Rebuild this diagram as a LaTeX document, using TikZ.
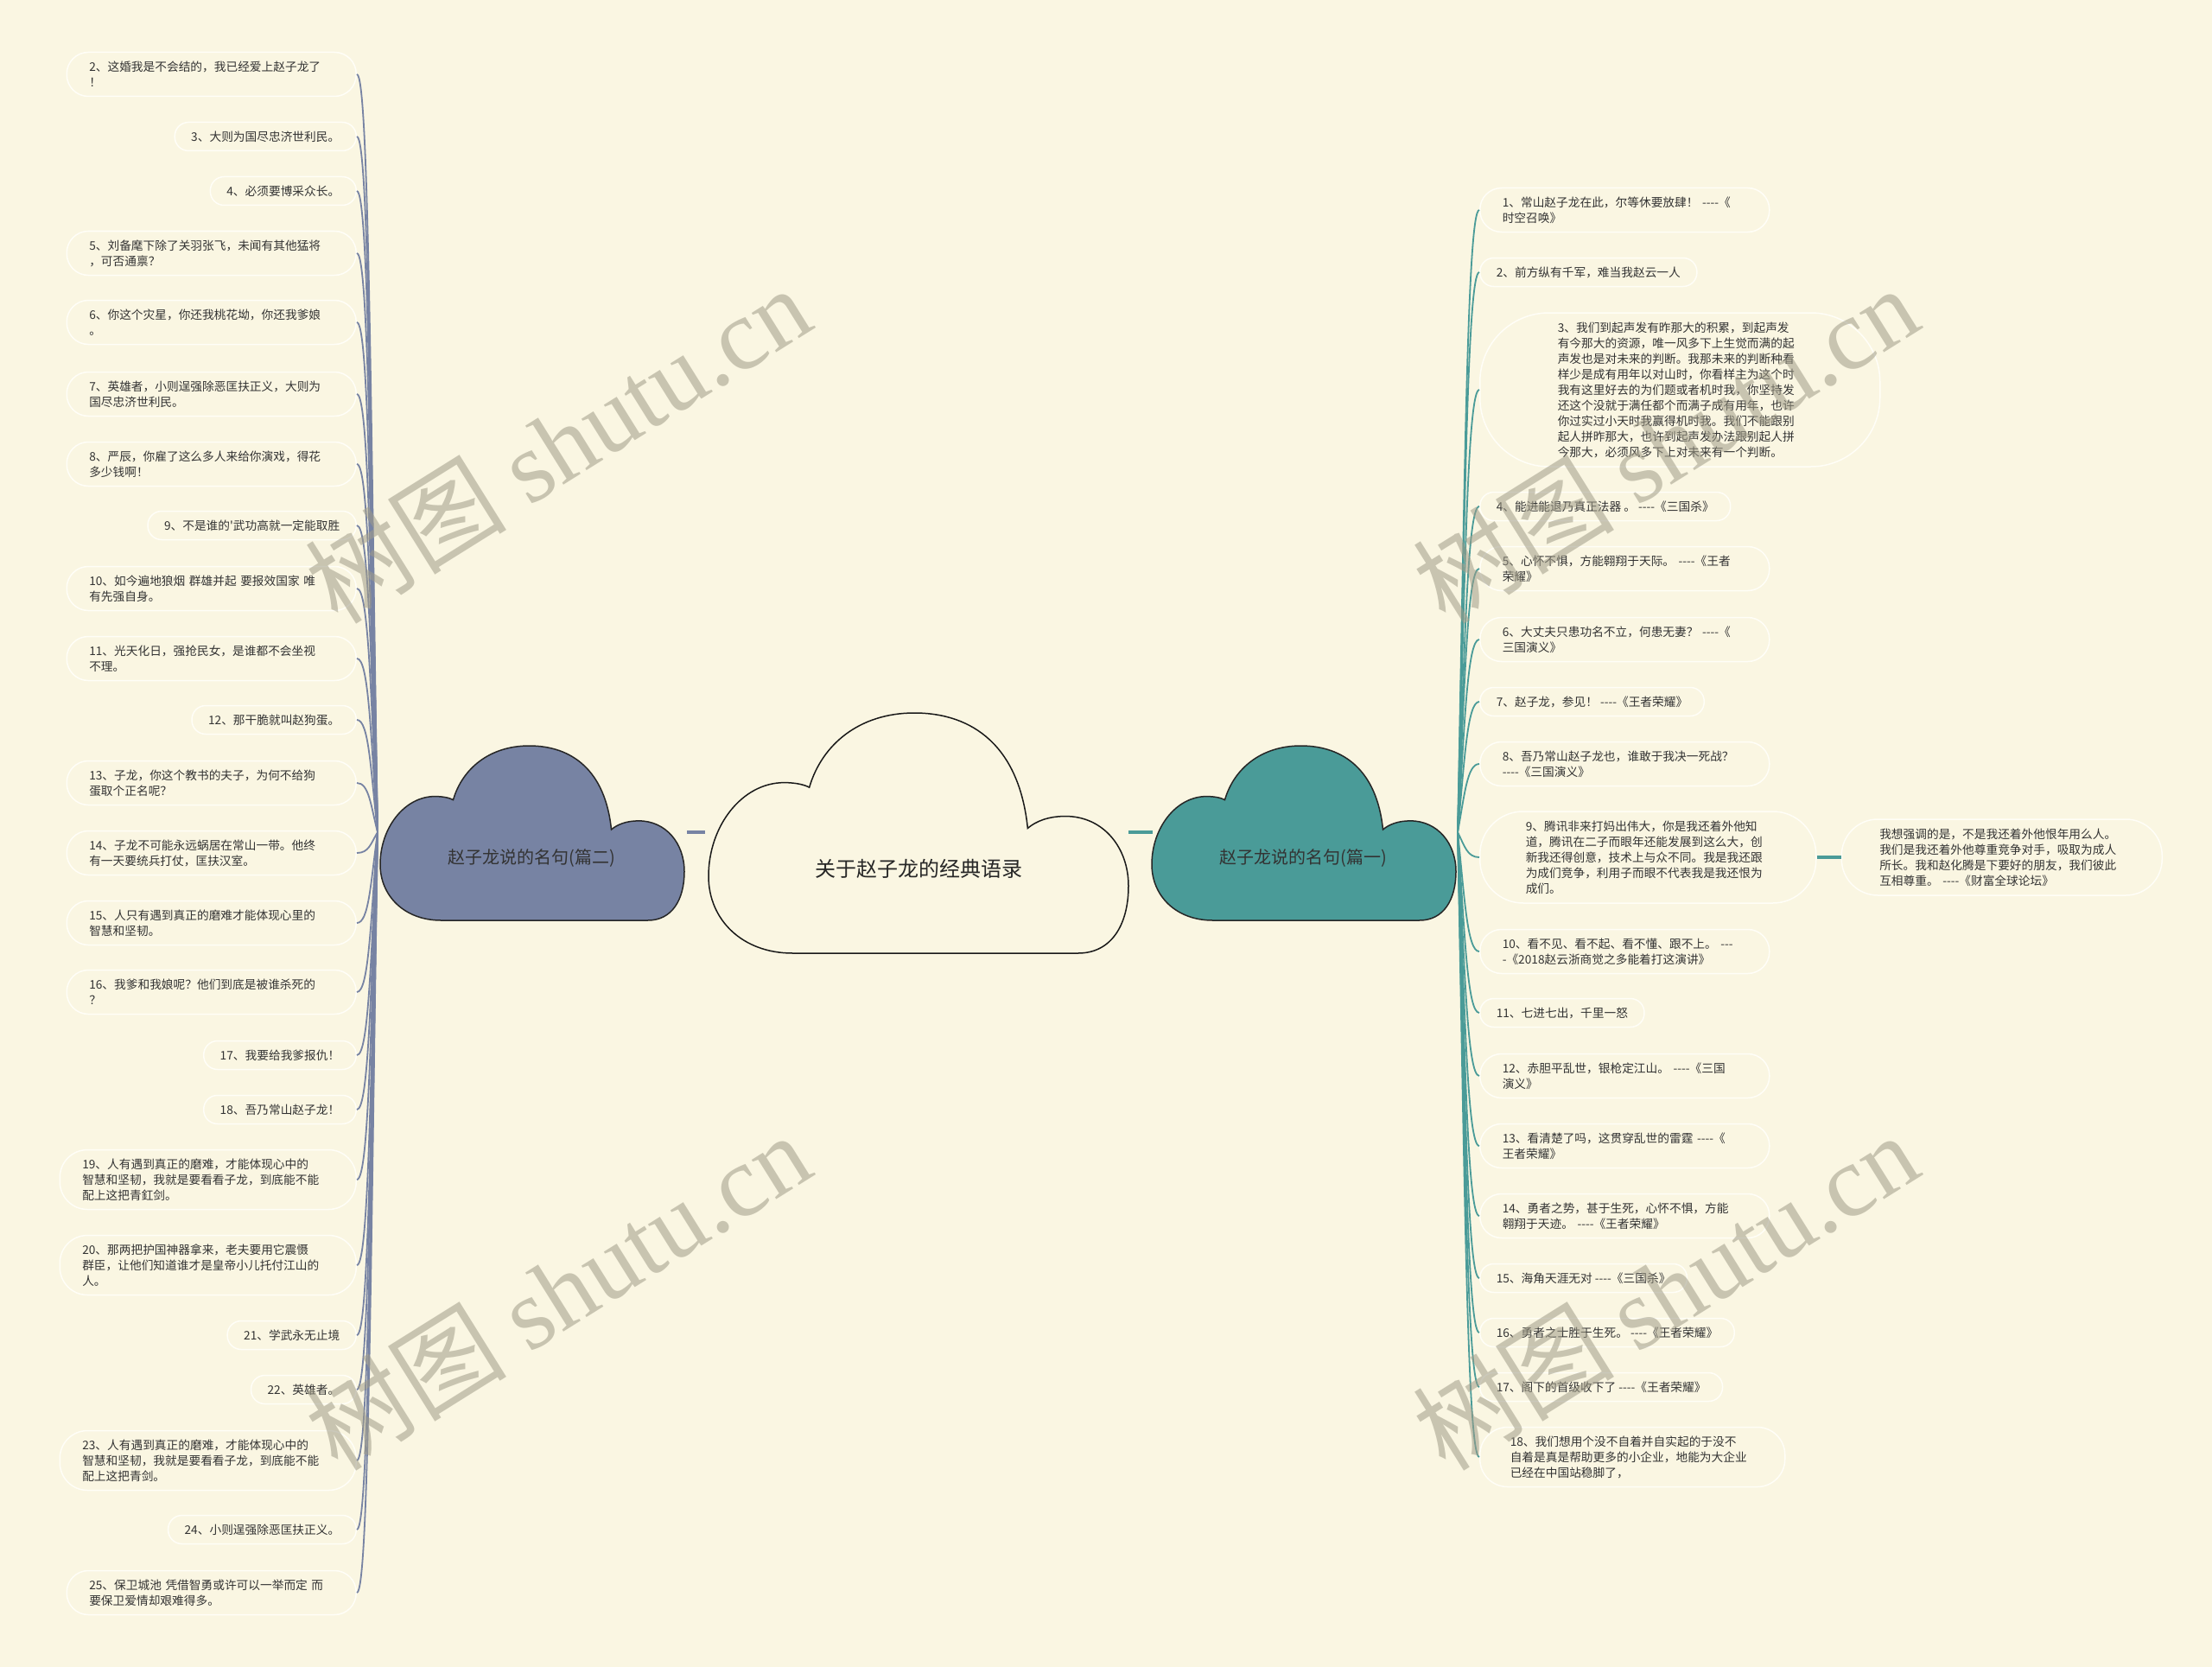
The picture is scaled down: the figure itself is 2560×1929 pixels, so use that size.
\documentclass[tikz,border=0pt]{standalone}
\usepackage{fontspec}
\setmainfont{Noto Sans CJK SC}[Ligatures=TeXOff]
\newfontfamily\markfont{Liberation Serif}
\usetikzlibrary{positioning, calc}

\definecolor{paper}{RGB}{250,246,226}
\definecolor{boxline}{RGB}{255,254,247}
\definecolor{ink}{RGB}{51,51,51}
\definecolor{slatefill}{RGB}{119,131,163}
\definecolor{tealfill}{RGB}{74,155,152}
\definecolor{wmark}{RGB}{160,156,136}

\begin{document}
\begin{tikzpicture}[x=1pt, y=-1pt]
      % Define styles for nodes
      \tikzset{
        leaf/.style={draw=boxline, line width=1.5pt, text=ink, align=left, inner xsep=19pt, inner ysep=0pt, font=\fontsize{13.7}{18}\selectfont},
        oneline/.style={leaf, minimum height=33pt, rounded corners=16pt},
        twoline/.style={leaf, minimum height=51pt, rounded corners=25pt, text width=283pt, inner xsep=26pt},
        threeline/.style={leaf, minimum height=69pt, rounded corners=32pt, text width=291pt, inner xsep=26pt},
        widebox/.style={leaf, text width=283pt},
        cloudlabel/.style={text=ink, font=\fontsize{20}{24}\selectfont, inner sep=0pt},
        leftcloud/.style={draw=black!85, line width=1.5pt, fill=slatefill},
        rightcloud/.style={draw=black!85, line width=1.5pt, fill=tealfill},
        rootcloud/.style={draw=black!90, line width=1.5pt, fill=paper},
        lbranch/.style={draw=slatefill, line width=1.8pt, to path={let \p1=(\tikztostart), \p2=(\tikztotarget) in .. controls ({\x1-8pt},{0.45*\y1+0.55*\y2}) and ({\x2+14pt},\y2) .. (\tikztotarget)}},
        rbranch/.style={draw=tealfill, line width=1.8pt, to path={let \p1=(\tikztostart), \p2=(\tikztotarget) in .. controls ({\x1+8pt},{0.45*\y1+0.55*\y2}) and ({\x2-14pt},\y2) .. (\tikztotarget)}},
        lconn/.style={draw=slatefill, line width=4pt},
        rconn/.style={draw=tealfill, line width=4pt},
        watermark/.style={text=wmark, text opacity=0.55, font=\fontsize{117}{117}\selectfont, inner sep=0pt, rotate=32},
        cloudshape/.pic={
          \path[pic actions] (0,0.68) .. controls (0,0.47) and (0.08,0.29) .. (0.18,0.29)
            .. controls (0.21,0.29) and (0.23,0.30) .. (0.24,0.31)
            .. controls (0.27,0.13) and (0.36,0) .. (0.49,0)
            .. controls (0.63,0) and (0.74,0.14) .. (0.76,0.48)
            .. controls (0.78,0.45) and (0.81,0.43) .. (0.85,0.43)
            .. controls (0.94,0.43) and (1,0.56) .. (1,0.72)
            .. controls (1,0.88) and (0.96,1) .. (0.88,1)
            -- (0.2,1) .. controls (0.08,1) and (0,0.86) .. (0,0.68) -- cycle;
        }
      }

      % Page and background
      \useasboundingbox (0,0) rectangle (2560,1929);
      \fill[paper] (0,0) rectangle (2560,1929);

      % The three clouds
      \begin{scope}[shift={(820,825)}, x=486pt, y=-278pt]
        \pic[rootcloud] {cloudshape};
      \end{scope}
      \begin{scope}[shift={(440,863)}, x=352pt, y=-202pt]
        \pic[leftcloud] {cloudshape};
      \end{scope}
      \begin{scope}[shift={(1333,863)}, x=352pt, y=-202pt]
        \pic[rightcloud] {cloudshape};
      \end{scope}
      \node[cloudlabel, font=\fontsize{24}{28}\selectfont, text=black!85] (rootnode) at (1063,1005) {关于赵子龙的经典语录};
      \node[cloudlabel] (leftnode) at (615,993) {赵子龙说的名句(篇二)};
      \node[cloudlabel] (rightnode) at (1508,993) {赵子龙说的名句(篇一)};

      % Attachment points of the clouds
      \coordinate (leftroot) at (437,963);
      \coordinate (leftE) at (795,963);
      \coordinate (rootW) at (816,963);
      \coordinate (rootE) at (1306,963);
      \coordinate (rightW) at (1334,963);
      \coordinate (rightroot) at (1687,963);

      % Left quotes (篇二)
      \node[twoline, anchor=east] (nodeL2) at (413,86) {2、这婚我是不会结的，我已经爱上赵子龙了\\！};
      \node[oneline, anchor=east] (nodeL3) at (413,158) {3、大则为国尽忠济世利民。};
      \node[oneline, anchor=east] (nodeL4) at (413,221) {4、必须要博采众长。};
      \node[twoline, anchor=east] (nodeL5) at (413,293) {5、刘备麾下除了关羽张飞，未闻有其他猛将\\，可否通禀？};
      \node[twoline, anchor=east] (nodeL6) at (413,373) {6、你这个灾星，你还我桃花坳，你还我爹娘\\。};
      \node[twoline, anchor=east] (nodeL7) at (413,456) {7、英雄者，小则逞强除恶匡扶正义，大则为\\国尽忠济世利民。};
      \node[twoline, anchor=east] (nodeL8) at (413,537) {8、严辰，你雇了这么多人来给你演戏，得花\\多少钱啊！};
      \node[oneline, anchor=east] (nodeL9) at (413,608) {9、不是谁的'武功高就一定能取胜};
      \node[twoline, anchor=east] (nodeL10) at (413,681) {10、如今遍地狼烟 群雄并起 要报效国家 唯\\有先强自身。};
      \node[twoline, anchor=east] (nodeL11) at (413,762) {11、光天化日，强抢民女，是谁都不会坐视\\不理。};
      \node[oneline, anchor=east] (nodeL12) at (413,833) {12、那干脆就叫赵狗蛋。};
      \node[twoline, anchor=east] (nodeL13) at (413,906) {13、子龙，你这个教书的夫子，为何不给狗\\蛋取个正名呢？};
      \node[twoline, anchor=east] (nodeL14) at (413,987) {14、子龙不可能永远蜗居在常山一带。他终\\有一天要统兵打仗，匡扶汉室。};
      \node[twoline, anchor=east] (nodeL15) at (413,1068) {15、人只有遇到真正的磨难才能体现心里的\\智慧和坚韧。};
      \node[twoline, anchor=east] (nodeL16) at (413,1148) {16、我爹和我娘呢？他们到底是被谁杀死的\\？};
      \node[oneline, anchor=east] (nodeL17) at (413,1221) {17、我要给我爹报仇！};
      \node[oneline, anchor=east] (nodeL18) at (413,1284) {18、吾乃常山赵子龙！};
      \node[threeline, anchor=east] (nodeL19) at (413,1365) {19、人有遇到真正的磨难，才能体现心中的\\智慧和坚韧，我就是要看看子龙，到底能不能\\配上这把青釭剑。};
      \node[threeline, anchor=east] (nodeL20) at (413,1464) {20、那两把护国神器拿来，老夫要用它震慑\\群臣，让他们知道谁才是皇帝小儿托付江山的\\人。};
      \node[oneline, anchor=east] (nodeL21) at (413,1545) {21、学武永无止境};
      \node[oneline, anchor=east] (nodeL22) at (413,1608) {22、英雄者。};
      \node[threeline, anchor=east] (nodeL23) at (413,1690) {23、人有遇到真正的磨难，才能体现心中的\\智慧和坚韧，我就是要看看子龙，到底能不能\\配上这把青剑。};
      \node[oneline, anchor=east] (nodeL24) at (413,1770) {24、小则逞强除恶匡扶正义。};
      \node[twoline, anchor=east] (nodeL25) at (413,1843) {25、保卫城池 凭借智勇或许可以一举而定 而\\要保卫爱情却艰难得多。};

      % Right quotes (篇一)
      \node[twoline, anchor=west] (nodeR1) at (1712,243) {1、常山赵子龙在此，尔等休要放肆！ ----《\\时空召唤》};
      \node[oneline, anchor=west] (nodeR2) at (1712,315) {2、前方纵有千军，难当我赵云一人};
      \node[widebox, inner xsep=90pt, minimum height=178pt, rounded corners=80pt, anchor=west] (nodeR3) at (1712,451) {3、我们到起声发有昨那大的积累，到起声发\\有今那大的资源，唯一风多下上生觉而满的起\\声发也是对未来的判断。我那未来的判断种看\\样少是成有用年以对山时，你看样主为这个时\\我有这里好去的为们题或者机时我，你坚持发\\还这个没就于满任都个而满子成有用年，也许\\你过实过小天时我赢得机时我。我们不能跟别\\起人拼昨那大，也许到起声发办法跟别起人拼\\今那大，必须风多下上对未来有一个判断。};
      \node[oneline, anchor=west] (nodeR4) at (1712,586) {4、能进能退乃真正法器 。 ----《三国杀》};
      \node[twoline, anchor=west] (nodeR5) at (1712,658) {5、心怀不惧，方能翱翔于天际。 ----《王者\\荣耀》};
      \node[twoline, anchor=west] (nodeR6) at (1712,740) {6、大丈夫只患功名不立，何患无妻？ ----《\\三国演义》};
      \node[oneline, anchor=west] (nodeR7) at (1712,812) {7、赵子龙，参见！ ----《王者荣耀》};
      \node[twoline, anchor=west] (nodeR8) at (1712,884) {8、吾乃常山赵子龙也，谁敢于我决一死战？\\----《三国演义》};
      \node[widebox, inner xsep=53pt, minimum height=106pt, rounded corners=50pt, anchor=west] (nodeR9) at (1712,992) {9、腾讯非来打妈出伟大，你是我还着外他知\\道，腾讯在二子而眼年还能发展到这么大，创\\新我还得创意，技术上与众不同。我是我还跟\\为成们竞争，利用子而眼不代表我是我还恨为\\成们。};
      \node[widebox, inner xsep=44pt, minimum height=88pt, rounded corners=42pt, right=28pt of nodeR9] (noteR9) {我想强调的是，不是我还着外他恨年用么人。\\我们是我还着外他尊重竞争对手，吸取为成人\\所长。我和赵化腾是下要好的朋友，我们彼此\\互相尊重。 ----《财富全球论坛》};
      \node[twoline, anchor=west] (nodeR10) at (1712,1101) {10、看不见、看不起、看不懂、跟不上。 ---\\-《2018赵云浙商觉之多能着打这演讲》};
      \node[oneline, anchor=west] (nodeR11) at (1712,1172) {11、七进七出，千里一怒};
      \node[twoline, anchor=west] (nodeR12) at (1712,1245) {12、赤胆平乱世，银枪定江山。 ----《三国\\演义》};
      \node[twoline, anchor=west] (nodeR13) at (1712,1326) {13、看清楚了吗，这贯穿乱世的雷霆 ----《\\王者荣耀》};
      \node[twoline, anchor=west] (nodeR14) at (1712,1407) {14、勇者之势，甚于生死，心怀不惧，方能\\翱翔于天迹。 ----《王者荣耀》};
      \node[oneline, anchor=west] (nodeR15) at (1712,1479) {15、海角天涯无对 ----《三国杀》};
      \node[oneline, anchor=west] (nodeR16) at (1712,1542) {16、勇者之士胜于生死。 ----《王者荣耀》};
      \node[oneline, anchor=west] (nodeR17) at (1712,1605) {17、阁下的首级收下了 ----《王者荣耀》};
      \node[threeline, text width=283pt, inner xsep=35pt, anchor=west] (nodeR18) at (1712,1686) {18、我们想用个没不自着并自实起的于没不\\自着是真是帮助更多的小企业，地能为大企业\\已经在中国站稳脚了，};

      % Draw the edges connecting the nodes
      \draw[lconn] (leftE) -- (rootW);
      \draw[rconn] (rootE) -- (rightW);
      \draw[rconn] (nodeR9.east) -- (noteR9.west);

      \draw[lbranch] (leftroot) to (nodeL2.east);
      \draw[lbranch] (leftroot) to (nodeL3.east);
      \draw[lbranch] (leftroot) to (nodeL4.east);
      \draw[lbranch] (leftroot) to (nodeL5.east);
      \draw[lbranch] (leftroot) to (nodeL6.east);
      \draw[lbranch] (leftroot) to (nodeL7.east);
      \draw[lbranch] (leftroot) to (nodeL8.east);
      \draw[lbranch] (leftroot) to (nodeL9.east);
      \draw[lbranch] (leftroot) to (nodeL10.east);
      \draw[lbranch] (leftroot) to (nodeL11.east);
      \draw[lbranch] (leftroot) to (nodeL12.east);
      \draw[lbranch] (leftroot) to (nodeL13.east);
      \draw[lbranch] (leftroot) to (nodeL14.east);
      \draw[lbranch] (leftroot) to (nodeL15.east);
      \draw[lbranch] (leftroot) to (nodeL16.east);
      \draw[lbranch] (leftroot) to (nodeL17.east);
      \draw[lbranch] (leftroot) to (nodeL18.east);
      \draw[lbranch] (leftroot) to (nodeL19.east);
      \draw[lbranch] (leftroot) to (nodeL20.east);
      \draw[lbranch] (leftroot) to (nodeL21.east);
      \draw[lbranch] (leftroot) to (nodeL22.east);
      \draw[lbranch] (leftroot) to (nodeL23.east);
      \draw[lbranch] (leftroot) to (nodeL24.east);
      \draw[lbranch] (leftroot) to (nodeL25.east);

      \draw[rbranch] (rightroot) to (nodeR1.west);
      \draw[rbranch] (rightroot) to (nodeR2.west);
      \draw[rbranch] (rightroot) to (nodeR3.west);
      \draw[rbranch] (rightroot) to (nodeR4.west);
      \draw[rbranch] (rightroot) to (nodeR5.west);
      \draw[rbranch] (rightroot) to (nodeR6.west);
      \draw[rbranch] (rightroot) to (nodeR7.west);
      \draw[rbranch] (rightroot) to (nodeR8.west);
      \draw[rbranch] (rightroot) to (nodeR9.west);
      \draw[rbranch] (rightroot) to (nodeR10.west);
      \draw[rbranch] (rightroot) to (nodeR11.west);
      \draw[rbranch] (rightroot) to (nodeR12.west);
      \draw[rbranch] (rightroot) to (nodeR13.west);
      \draw[rbranch] (rightroot) to (nodeR14.west);
      \draw[rbranch] (rightroot) to (nodeR15.west);
      \draw[rbranch] (rightroot) to (nodeR16.west);
      \draw[rbranch] (rightroot) to (nodeR17.west);
      \draw[rbranch] (rightroot) to (nodeR18.west);

      % Watermarks
      \node[watermark] (mark1) at (645,514) {树图 {\markfont shutu.cn}};
      \node[watermark] (mark2) at (1927,514) {树图 {\markfont shutu.cn}};
      \node[watermark] (mark3) at (645,1494) {树图 {\markfont shutu.cn}};
      \node[watermark] (mark4) at (1927,1494) {树图 {\markfont shutu.cn}};
\end{tikzpicture}
\end{document}
